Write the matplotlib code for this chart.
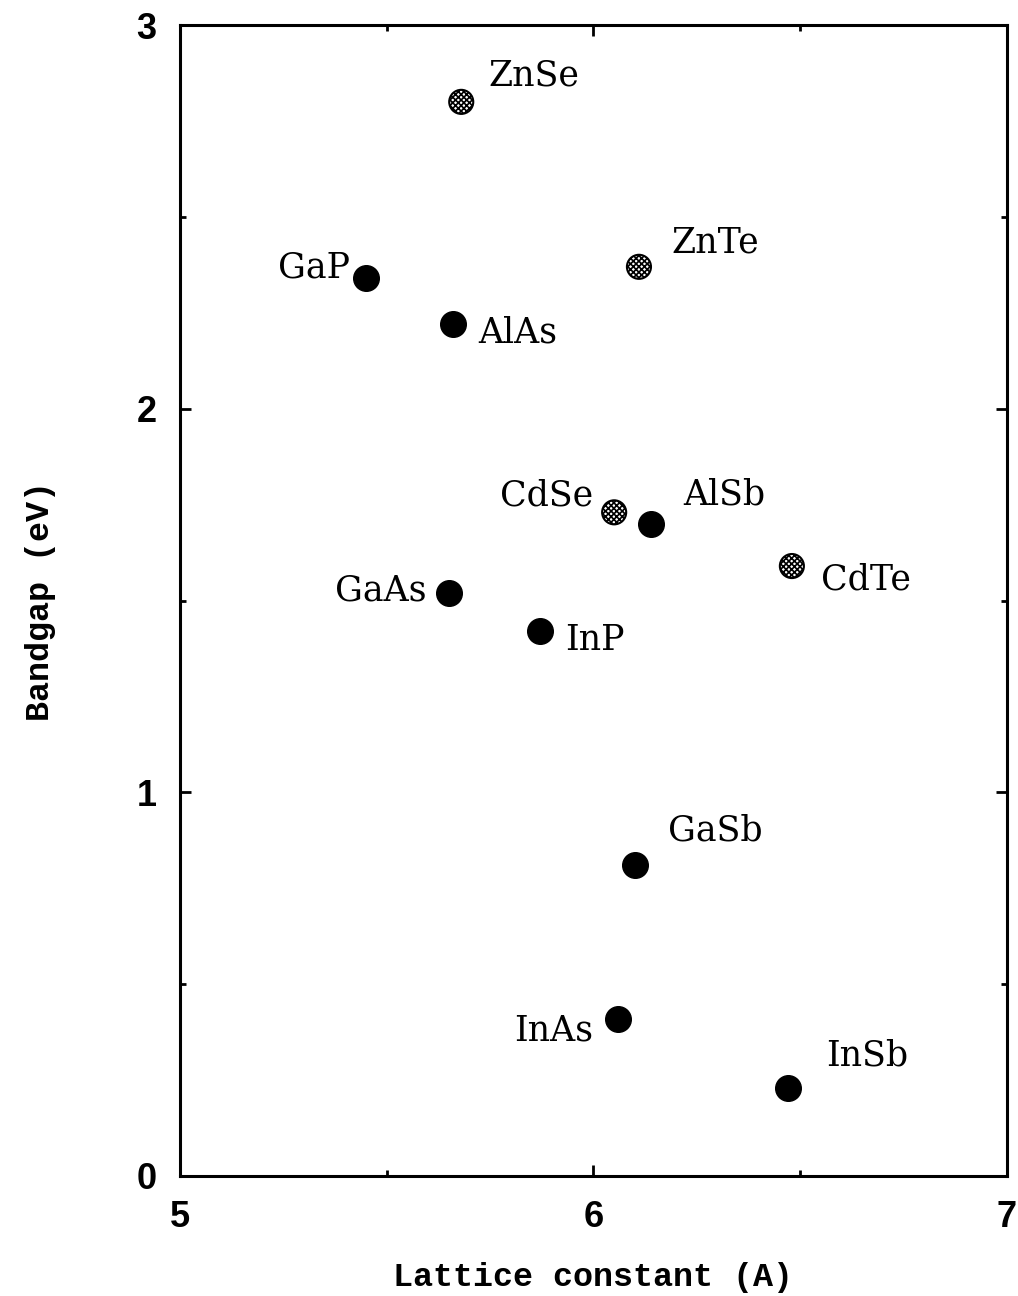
import matplotlib
matplotlib.use("Agg")
import matplotlib.pyplot as plt
from matplotlib.ticker import MultipleLocator

# compounds, lattice constant (A) and bandgap (eV)
names = ["ZnSe", "ZnTe", "CdSe", "CdTe",
         "GaP", "AlAs", "AlSb", "GaAs", "InP", "GaSb", "InAs", "InSb"]
lattice = [5.68, 6.11, 6.05, 6.48,
           5.45, 5.66, 6.14, 5.65, 5.87, 6.10, 6.06, 6.47]
bandgap = [2.80, 2.37, 1.73, 1.59,
           2.34, 2.22, 1.70, 1.52, 1.42, 0.81, 0.41, 0.23]
ii_vi = [True, True, True, True,
         False, False, False, False, False, False, False, False]

# label offsets from the dot, in pixels
label_dx = [73, 76, -68, 74, -52, 65, 73, -68, 55, 80, -65, 79]
label_dy = [26, 24, 17, -13, 11, -8, 29, 2, -9, 35, -12, 32]

fig = plt.figure(figsize=(10.18, 12.96), dpi=100)
ax = fig.add_axes([0.177, 0.0926, 0.812, 0.888])

plt.rcParams["hatch.linewidth"] = 1.2

for x, y, grey in zip(lattice, bandgap, ii_vi):
    if grey:
        ax.scatter(x, y, s=300, facecolor="white", edgecolor="black",
                   hatch="xxxxxx", linewidth=1.5, zorder=3)
    else:
        ax.scatter(x, y, s=340, color="black", zorder=3)

for name, x, y, dx, dy in zip(names, lattice, bandgap, label_dx, label_dy):
    ax.annotate(name, (x, y), xytext=(dx, dy), textcoords="offset pixels",
                ha="center", va="center", fontsize=25,
                family="DejaVu Serif", fontweight="medium")

ax.set_xlim(5, 7)
ax.set_ylim(0, 3)
ax.xaxis.set_major_locator(MultipleLocator(1))
ax.xaxis.set_minor_locator(MultipleLocator(0.5))
ax.yaxis.set_major_locator(MultipleLocator(1))
ax.yaxis.set_minor_locator(MultipleLocator(0.5))

ax.tick_params(which="both", direction="in", top=True, right=True, width=2)
ax.tick_params(which="major", length=8, pad=17)
ax.tick_params(which="minor", length=4)
for lab in ax.get_xticklabels() + ax.get_yticklabels():
    lab.set_family("Liberation Sans")
    lab.set_fontweight("bold")
    lab.set_fontsize(26)
for sp in ax.spines.values():
    sp.set_linewidth(2.2)

ax.set_xlabel("Lattice constant (A)", family="Liberation Mono",
              fontweight="bold", fontsize=24, labelpad=20)
ax.set_ylabel("Bandgap (eV)", family="Liberation Mono",
              fontweight="bold", fontsize=24, labelpad=58)

fig.savefig("out.png", dpi=100)
